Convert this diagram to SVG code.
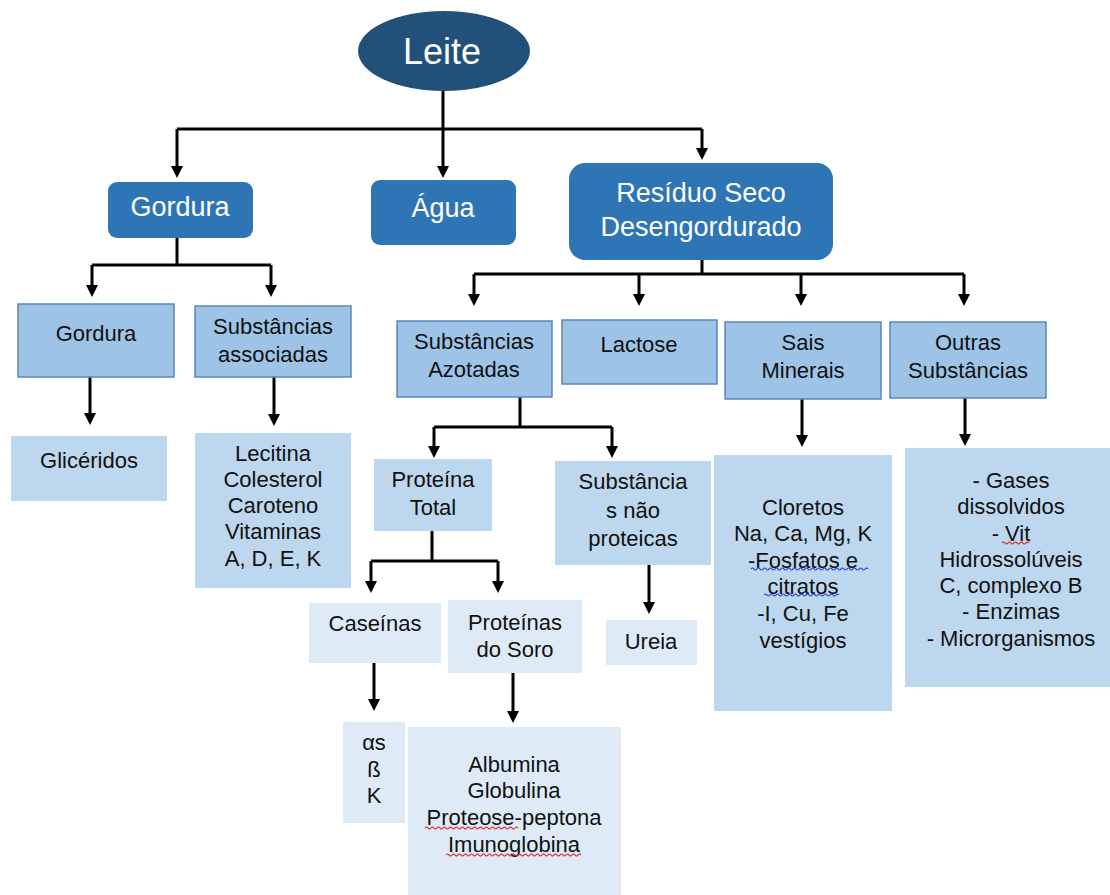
<svg xmlns="http://www.w3.org/2000/svg" width="1110" height="895" viewBox="0 0 1110 895">
<defs>
<style>
.t{font-family:"Liberation Sans",Arial,sans-serif;font-size:22px;fill:#111;text-anchor:middle}
.w{font-family:"Liberation Sans",Arial,sans-serif;font-size:27px;fill:#fff;text-anchor:middle}
.main{fill:#2e75b6}
.l2{fill:#9dc3e6;stroke:#5a86bd;stroke-width:1.5}
.l3{fill:#bdd7ee}
.l4{fill:#deebf7}
.c{fill:none;stroke:#000;stroke-width:3}
.sqr{fill:none;stroke:#e02020;stroke-width:1.2}
.sqb{fill:none;stroke:#2040e0;stroke-width:1.2}
</style>
</defs>
<rect width="1110" height="895" fill="#fff"/>
<g id="connectors">
<path class="c" d="M443,91 V129 M177,129 H702 M177,129 V167 M443,129 V167 M702,129 V149"/>
<path class="c" d="M177,238 V265 M92,265 H271 M92,265 V286 M271,265 V286"/>
<path class="c" d="M702,260 V274 M474,274 H964 M474,274 V295 M639,274 V295 M801,274 V295 M964,274 V295"/>
<path class="c" d="M90,377 V414 M274,377 V415"/>
<path class="c" d="M520,397 V427 M434,427 H612 M434,427 V447 M612,427 V447"/>
<path class="c" d="M432,531 V561 M371,561 H498 M371,561 V582 M498,561 V582"/>
<path class="c" d="M649,565 V603"/>
<path class="c" d="M374,663 V700 M513,673 V712"/>
<path class="c" d="M802,399 V436 M965,398 V435"/>
<g id="arrowheads" fill="#000">
<path d="M171,166 H183 L177,178 Z"/>
<path d="M437,166 H449 L443,178 Z"/>
<path d="M696,148 H708 L702,160 Z"/>
<path d="M86,285 H98 L92,297 Z"/>
<path d="M265,285 H277 L271,297 Z"/>
<path d="M468,294 H480 L474,306 Z"/>
<path d="M633,294 H645 L639,306 Z"/>
<path d="M795,294 H807 L801,306 Z"/>
<path d="M958,294 H970 L964,306 Z"/>
<path d="M84,413 H96 L90,425 Z"/>
<path d="M268,414 H280 L274,426 Z"/>
<path d="M428,446 H440 L434,458 Z"/>
<path d="M606,446 H618 L612,458 Z"/>
<path d="M365,581 H377 L371,593 Z"/>
<path d="M492,581 H504 L498,593 Z"/>
<path d="M643,602 H655 L649,614 Z"/>
<path d="M368,699 H380 L374,711 Z"/>
<path d="M507,711 H519 L513,723 Z"/>
<path d="M796,435 H808 L802,447 Z"/>
<path d="M959,434 H971 L965,446 Z"/>
</g>
</g>
<g id="leite">
<ellipse cx="444" cy="51" rx="86" ry="40" fill="#215078"/>
<text x="442" y="64" font-family="Liberation Sans,Arial,sans-serif" font-size="36" fill="#fff" text-anchor="middle">Leite</text>
</g>
<g id="gordura">
<rect class="main" x="108" y="182" width="145" height="56" rx="9"/>
<text class="w" x="180" y="216">Gordura</text>
</g>
<g id="agua">
<rect class="main" x="371" y="180" width="145" height="65" rx="9"/>
<text class="w" x="443" y="217">Água</text>
</g>
<g id="residuo">
<rect class="main" x="569" y="163" width="264" height="97" rx="16"/>
<text class="w" x="701" y="202">Resíduo Seco</text>
<text class="w" x="701" y="236">Desengordurado</text>
</g>
<g id="gordura2">
<rect class="l2" x="18" y="304" width="156" height="73"/>
<text class="t" x="96" y="341">Gordura</text>
</g>
<g id="subst-assoc">
<rect class="l2" x="195" y="306" width="156" height="71"/>
<text class="t" x="273" y="334">Substâncias</text>
<text class="t" x="273" y="362">associadas</text>
</g>
<g id="gliceridos">
<rect class="l3" x="11" y="436" width="156" height="65"/>
<text class="t" x="89" y="468">Glicéridos</text>
</g>
<g id="lecitina">
<rect class="l3" x="195" y="433" width="156" height="155"/>
<text class="t" x="273" y="461">Lecitina</text>
<text class="t" x="273" y="487">Colesterol</text>
<text class="t" x="273" y="513">Caroteno</text>
<text class="t" x="273" y="539">Vitaminas</text>
<text class="t" x="273" y="566">A, D, E, K</text>
</g>
<g id="azotadas">
<rect class="l2" x="397" y="321" width="155" height="76"/>
<text class="t" x="474" y="349">Substâncias</text>
<text class="t" x="474" y="377">Azotadas</text>
</g>
<g id="lactose">
<rect class="l2" x="562" y="320" width="155" height="64"/>
<text class="t" x="639" y="352">Lactose</text>
</g>
<g id="sais">
<rect class="l2" x="725" y="322" width="156" height="77"/>
<text class="t" x="803" y="350">Sais</text>
<text class="t" x="803" y="378">Minerais</text>
</g>
<g id="outras">
<rect class="l2" x="890" y="322" width="156" height="76"/>
<text class="t" x="968" y="350">Outras</text>
<text class="t" x="968" y="378">Substâncias</text>
</g>
<g id="proteina-total">
<rect class="l3" x="374" y="459" width="118" height="72"/>
<text class="t" x="433" y="487">Proteína</text>
<text class="t" x="433" y="515">Total</text>
</g>
<g id="nao-proteicas">
<rect class="l3" x="555" y="461" width="156" height="104"/>
<text class="t" x="633" y="489">Substância</text>
<text class="t" x="633" y="518">s não</text>
<text class="t" x="633" y="546">proteicas</text>
</g>
<g id="ureia">
<rect class="l4" x="606" y="620" width="91" height="45"/>
<text class="t" x="651" y="649">Ureia</text>
</g>
<g id="caseinas">
<rect class="l4" x="309" y="603" width="132" height="60"/>
<text class="t" x="375" y="631">Caseínas</text>
</g>
<g id="soro">
<rect class="l4" x="448" y="600" width="134" height="73"/>
<text class="t" x="515" y="630">Proteínas</text>
<text class="t" x="515" y="657">do Soro</text>
</g>
<g id="caseinas-tipos">
<rect class="l4" x="343" y="722" width="62" height="101"/>
<text class="t" x="374" y="750">αs</text>
<text class="t" x="374" y="777">ß</text>
<text class="t" x="374" y="803">K</text>
</g>
<g id="soro-tipos">
<rect class="l4" x="408" y="727" width="213" height="168"/>
<text class="t" x="514" y="772">Albumina</text>
<text class="t" x="514" y="798">Globulina</text>
<text class="t" x="514" y="825">Proteose-peptona</text>
<text class="t" x="514" y="852">Imunoglobina</text>
<path class="sqr" d="M425,828 q1.5,-2 3,0 t3,0 t3,0 t3,0 t3,0 t3,0 t3,0 t3,0 t3,0 t3,0 t3,0 t3,0 t3,0 t3,0 t3,0 t3,0 t3,0 t3,0 t3,0 t3,0 t3,0 t3,0 t3,0 t3,0 t3,0 t3,0 t3,0 t3,0 t3,0 t3,0 t3,0"/>
<path class="sqr" d="M446,855 q1.5,-2 3,0 t3,0 t3,0 t3,0 t3,0 t3,0 t3,0 t3,0 t3,0 t3,0 t3,0 t3,0 t3,0 t3,0 t3,0 t3,0 t3,0 t3,0 t3,0 t3,0 t3,0 t3,0 t3,0 t3,0 t3,0 t3,0 t3,0 t3,0 t3,0 t3,0 t3,0 t3,0 t3,0 t3,0 t3,0 t3,0 t3,0 t3,0 t3,0 t3,0 t3,0 t3,0 t3,0 t3,0 t3,0"/>
</g>
<g id="sais-detalhe">
<rect class="l3" x="714" y="455" width="178" height="256"/>
<text class="t" x="803" y="515">Cloretos</text>
<text class="t" x="803" y="541">Na, Ca, Mg, K</text>
<text class="t" x="803" y="568">-Fosfatos e</text>
<text class="t" x="803" y="594">citratos</text>
<text class="t" x="803" y="621">-I, Cu, Fe</text>
<text class="t" x="803" y="648">vestígios</text>
<path class="sqb" d="M751,569 q1.5,-2 3,0 t3,0 t3,0 t3,0 t3,0 t3,0 t3,0 t3,0 t3,0 t3,0 t3,0 t3,0 t3,0 t3,0 t3,0 t3,0 t3,0 t3,0 t3,0 t3,0 t3,0 t3,0 t3,0 t3,0 t3,0 t3,0 t3,0 t3,0 t3,0 t3,0 t3,0 t3,0 t3,0 t3,0 t3,0 t3,0 t3,0 t3,0 t3,0"/>
<path class="sqb" d="M764,595 q1.5,-2 3,0 t3,0 t3,0 t3,0 t3,0 t3,0 t3,0 t3,0 t3,0 t3,0 t3,0 t3,0 t3,0 t3,0 t3,0 t3,0 t3,0 t3,0 t3,0 t3,0 t3,0 t3,0 t3,0 t3,0 t3,0"/>
</g>
<g id="outras-detalhe">
<rect class="l3" x="905" y="448" width="205" height="239"/>
<text class="t" x="1011" y="488">- Gases</text>
<text class="t" x="1011" y="514">dissolvidos</text>
<text class="t" x="1011" y="541">- Vit</text>
<text class="t" x="1011" y="567">Hidrossolúveis</text>
<text class="t" x="1011" y="593">C, complexo B</text>
<text class="t" x="1011" y="619">- Enzimas</text>
<text class="t" x="1011" y="646">- Microrganismos</text>
<path class="sqr" d="M1002,543 q1.5,-2 3,0 t3,0 t3,0 t3,0 t3,0 t3,0 t3,0 t3,0 t3,0"/>
</g>
</svg>
